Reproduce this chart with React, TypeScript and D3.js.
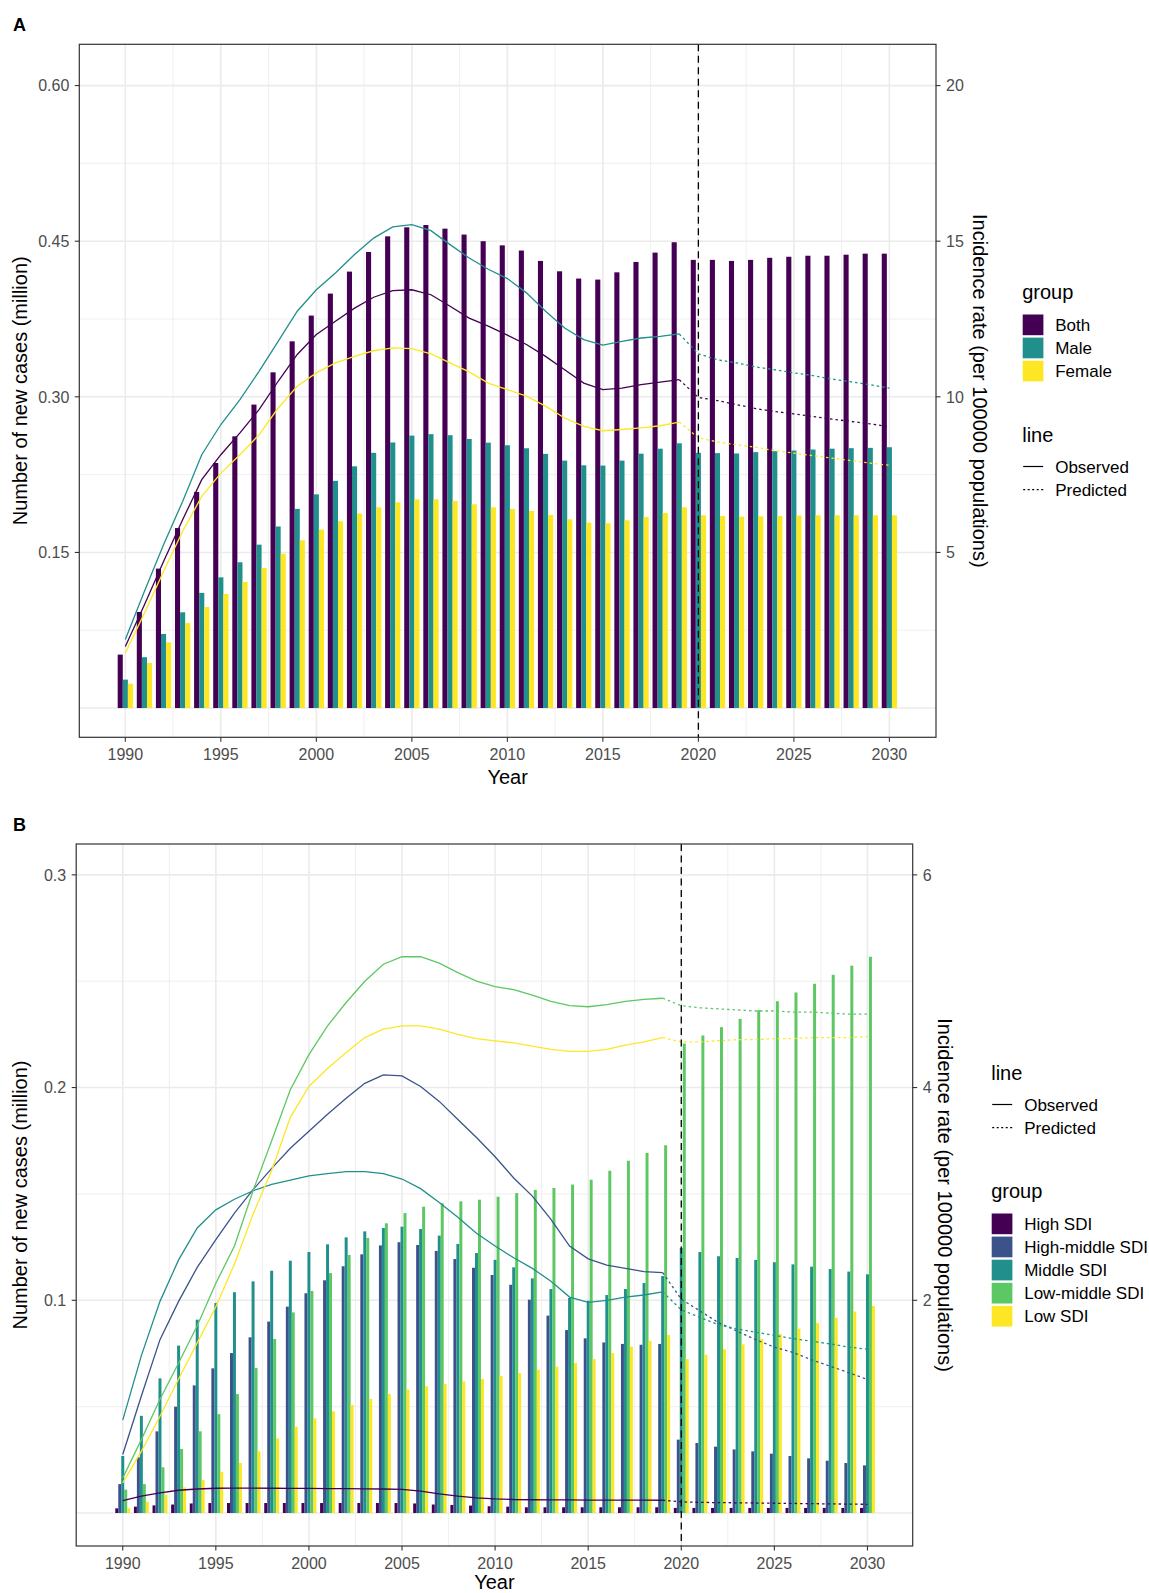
import React from "react";
import * as d3 from "d3";

// categories
const years = [
  1990, 1991, 1992, 1993, 1994, 1995, 1996, 1997, 1998, 1999, 2000, 2001, 2002, 2003,
  2004, 2005, 2006, 2007, 2008, 2009, 2010, 2011, 2012, 2013, 2014, 2015, 2016, 2017,
  2018, 2019, 2020, 2021, 2022, 2023, 2024, 2025, 2026, 2027, 2028, 2029, 2030,
];

// ---- panel A: new cases (million) ----
const groupsA = ["Both", "Male", "Female"];
const casesBoth = [
  0.0515, 0.0926, 0.1344, 0.1735, 0.2083, 0.2362, 0.2619, 0.2925, 0.3236, 0.3535, 0.3783,
  0.3995, 0.4207, 0.4396, 0.4547, 0.4634, 0.4656, 0.4621, 0.4564, 0.45, 0.446, 0.441, 0.431,
  0.421, 0.414, 0.413, 0.42, 0.43, 0.439, 0.449, 0.432, 0.432, 0.431, 0.432, 0.434, 0.435,
  0.436, 0.436, 0.437, 0.438, 0.438,
];
const casesMale = [
  0.0274, 0.049, 0.0714, 0.0923, 0.111, 0.126, 0.1405, 0.1575, 0.175, 0.192, 0.206, 0.219,
  0.233, 0.246, 0.256, 0.2626, 0.264, 0.263, 0.2594, 0.2558, 0.2533, 0.2504, 0.245, 0.2385,
  0.234, 0.2337, 0.2385, 0.2452, 0.25, 0.2552, 0.246, 0.2457, 0.2454, 0.2467, 0.2476, 0.2482,
  0.2492, 0.25, 0.2505, 0.2508, 0.2514,
];
const casesFemale = [
  0.0235, 0.0434, 0.0633, 0.082, 0.0974, 0.11, 0.1215, 0.135, 0.1488, 0.1617, 0.172, 0.18,
  0.1874, 0.1935, 0.1983, 0.2012, 0.2012, 0.1996, 0.1964, 0.1935, 0.1919, 0.19, 0.1861,
  0.1819, 0.1787, 0.1781, 0.181, 0.1842, 0.188, 0.1935, 0.1858, 0.1851, 0.1845, 0.1848,
  0.1851, 0.1855, 0.1858, 0.1858, 0.1858, 0.1858, 0.1858,
];
// incidence rate (per 100000)
const rateBoth = [
  1.98, 3.32, 4.71, 6.05, 7.34, 8.14, 8.84, 9.59, 10.5, 11.36, 12.0, 12.43, 12.85, 13.2,
  13.41, 13.44, 13.28, 12.91, 12.53, 12.27, 11.98, 11.68, 11.3, 10.87, 10.44, 10.23, 10.28,
  10.39, 10.47, 10.55, 9.98, 9.88, 9.75, 9.62, 9.53, 9.45, 9.37, 9.28, 9.21, 9.13, 9.04,
];
const rateMale = [
  2.2, 3.75, 5.25, 6.64, 8.14, 9.11, 9.91, 10.82, 11.78, 12.75, 13.44, 13.98, 14.57, 15.1,
  15.46, 15.53, 15.34, 14.89, 14.46, 14.1, 13.8, 13.34, 12.75, 12.21, 11.84, 11.66, 11.78,
  11.89, 11.94, 12.02, 11.38, 11.19, 11.09, 10.96, 10.87, 10.77, 10.68, 10.57, 10.48, 10.39,
  10.28,
];
const rateFemale = [
  1.77, 3.05, 4.39, 5.68, 6.8, 7.55, 8.14, 8.78, 9.64, 10.34, 10.77, 11.09, 11.3, 11.48,
  11.57, 11.55, 11.38, 11.09, 10.8, 10.44, 10.23, 10.02, 9.7, 9.32, 9.05, 8.91, 8.95, 9.0,
  9.07, 9.19, 8.68, 8.55, 8.46, 8.38, 8.27, 8.19, 8.11, 8.03, 7.95, 7.87, 7.8,
];

// ---- panel B: SDI regions ----
const groupsB = ["High SDI", "High-middle SDI", "Middle SDI", "Low-middle SDI", "Low SDI"];
const casesHigh = [
  0.0022, 0.003, 0.0036, 0.004, 0.0045, 0.0047, 0.0047, 0.0047, 0.0047, 0.0047, 0.0047,
  0.0047, 0.0047, 0.0047, 0.0047, 0.0047, 0.0045, 0.004, 0.0038, 0.0035, 0.0032, 0.003,
  0.0027, 0.0027, 0.0027, 0.0027, 0.0027, 0.0027, 0.0027, 0.0027, 0.0024, 0.0024, 0.0024,
  0.0024, 0.0024, 0.0024, 0.0024, 0.0024, 0.0024, 0.0024, 0.0024,
];
const casesHighMid = [
  0.0136, 0.0262, 0.0384, 0.05, 0.06, 0.068, 0.0752, 0.0826, 0.09, 0.097, 0.1033, 0.1094,
  0.116, 0.1216, 0.1258, 0.1273, 0.126, 0.1232, 0.1194, 0.1153, 0.1119, 0.1073, 0.1003,
  0.0928, 0.086, 0.0821, 0.0802, 0.0795, 0.0791, 0.0795, 0.0345, 0.0329, 0.0312, 0.0299,
  0.029, 0.0279, 0.0268, 0.0257, 0.0246, 0.0235, 0.0224,
];
const casesMiddle = [
  0.0268, 0.0457, 0.0633, 0.0787, 0.0909, 0.0987, 0.1038, 0.1089, 0.1139, 0.1186, 0.1227,
  0.1263, 0.1296, 0.1324, 0.134, 0.1346, 0.1335, 0.1304, 0.1265, 0.1222, 0.119, 0.1155,
  0.1103, 0.1053, 0.1011, 0.0998, 0.1025, 0.1053, 0.1081, 0.1114, 0.1246, 0.1227, 0.1207,
  0.1199, 0.119, 0.1179, 0.1169, 0.1158, 0.1147, 0.1135, 0.1122,
];
const casesLowMid = [
  0.011, 0.0136, 0.0215, 0.0301, 0.0384, 0.0465, 0.0559, 0.0682, 0.0818, 0.0943, 0.1044,
  0.1128, 0.1213, 0.1293, 0.1362, 0.141, 0.144, 0.1456, 0.1465, 0.1473, 0.1487, 0.1504,
  0.1519, 0.1528, 0.1544, 0.1567, 0.1609, 0.1656, 0.1693, 0.1729, 0.2207, 0.2245, 0.2284,
  0.2323, 0.2364, 0.2406, 0.2447, 0.2488, 0.253, 0.2573, 0.2615,
];
const casesLow = [
  0.0022, 0.0053, 0.0086, 0.0121, 0.0155, 0.0194, 0.0235, 0.029, 0.0351, 0.0406, 0.0445,
  0.0478, 0.0508, 0.0536, 0.056, 0.058, 0.0596, 0.0606, 0.0619, 0.063, 0.0644, 0.0658,
  0.0674, 0.0688, 0.0705, 0.0724, 0.0752, 0.0782, 0.0809, 0.0837, 0.0724, 0.0744, 0.077,
  0.0793, 0.0818, 0.0842, 0.0867, 0.0893, 0.0918, 0.0947, 0.0973,
];
const rateHigh = [
  0.1175, 0.158, 0.19, 0.214, 0.226, 0.233, 0.234, 0.234, 0.233, 0.232, 0.231, 0.23, 0.229,
  0.228, 0.226, 0.222, 0.205, 0.18, 0.158, 0.143, 0.133, 0.127, 0.125, 0.124, 0.123, 0.122,
  0.122, 0.121, 0.121, 0.12, 0.105, 0.1, 0.098, 0.096, 0.094, 0.092, 0.09, 0.088, 0.086,
  0.084, 0.082,
];
const rateHighMid = [
  0.55, 1.1, 1.63, 1.99, 2.31, 2.57, 2.82, 3.04, 3.24, 3.43, 3.59, 3.75, 3.9, 4.04, 4.12,
  4.11, 4.01, 3.87, 3.7, 3.53, 3.35, 3.15, 2.98, 2.76, 2.51, 2.39, 2.33, 2.3, 2.27, 2.26,
  2.01, 1.9, 1.79, 1.71, 1.63, 1.56, 1.51, 1.44, 1.38, 1.32, 1.255,
];
const rateMiddle = [
  0.873, 1.48, 1.99, 2.38, 2.68, 2.85, 2.95, 3.03, 3.09, 3.13, 3.17, 3.19, 3.21, 3.21, 3.19,
  3.14, 3.05, 2.92, 2.78, 2.63, 2.51, 2.4, 2.3, 2.18, 2.03, 1.98, 2.0, 2.03, 2.05, 2.08,
  1.91, 1.84, 1.77, 1.73, 1.7, 1.67, 1.64, 1.615, 1.59, 1.56, 1.54,
];
const rateLowMid = [
  0.33, 0.69, 1.07, 1.41, 1.76, 2.16, 2.51, 3.03, 3.5, 3.98, 4.31, 4.58, 4.8, 5.0, 5.16,
  5.23, 5.23, 5.17, 5.08, 5.0, 4.95, 4.92, 4.87, 4.81, 4.77, 4.76, 4.78, 4.81, 4.83, 4.84,
  4.77, 4.75, 4.74, 4.73, 4.72, 4.72, 4.71, 4.71, 4.7, 4.69, 4.69,
];
const rateLow = [
  0.284, 0.58, 0.91, 1.26, 1.6, 1.94, 2.34, 2.81, 3.22, 3.72, 4.01, 4.18, 4.33, 4.47, 4.55,
  4.58, 4.58, 4.55, 4.5, 4.46, 4.44, 4.42, 4.39, 4.36, 4.34, 4.34, 4.36, 4.4, 4.43, 4.47,
  4.43, 4.43, 4.44, 4.45, 4.45, 4.46, 4.46, 4.47, 4.47, 4.47, 4.48,
];

// axis ticks
const xTicks = [1990, 1995, 2000, 2005, 2010, 2015, 2020, 2025, 2030];
const leftTicksA = [0.15, 0.3, 0.45, 0.6];
const rightTicksA = [5, 10, 15, 20];
const leftTicksB = [0.1, 0.2, 0.3];
const rightTicksB = [2, 4, 6];
const lineTypes = ["Observed", "Predicted"];

const colorsA = ["#440154", "#21908C", "#FDE725"];
const colorsB = ["#440154", "#3B528B", "#21908C", "#5DC863", "#FDE725"];

const FONT = "'Liberation Sans', Arial, Helvetica, sans-serif";
const lastObserved = 2019;
const splitYear = 2020;

const Panel = (props) => {
  const { box, xDomain, yDomain, factor, leftTicks, leftFmt, rightTicks, groups, colors,
    cases, rates, letter, leftTitleX, rightTitleX, yearOffset, legend } = props;

  const x = d3.scaleLinear().domain(xDomain).range([box.left, box.right]);
  const y = d3.scaleLinear().domain(yDomain).range([box.bottom, box.top]);
  const yR = d3.scaleLinear().domain(yDomain.map((d) => d * factor)).range([box.bottom, box.top]);
  const inner = d3.scaleBand().domain(groups).range([-0.4, 0.4]);
  const line = d3.line().x((d) => x(d[0])).y((d) => yR(d[1]));

  const step = leftTicks[1] - leftTicks[0];
  const majorY = [0, ...leftTicks];
  const minorY = majorY.map((d) => d + step / 2).filter((d) => d < yDomain[1]);
  const minorX = d3.range(xTicks[0] - 2.5, xTicks[xTicks.length - 1] + 5, 5)
    .filter((d) => d > xDomain[0] && d < xDomain[1]);

  const midY = (box.top + box.bottom) / 2;
  const midX = (box.left + box.right) / 2;

  return (
    <g fontFamily={FONT}>
      <text x={13} y={box.top - 13} fontSize={18} fontWeight="bold">{letter}</text>

      {/* grid */}
      {minorY.map((d) => (
        <line key={"my" + d} x1={box.left} x2={box.right} y1={y(d)} y2={y(d)} stroke="#EBEBEB" strokeWidth={0.8} />
      ))}
      {minorX.map((d) => (
        <line key={"mx" + d} x1={x(d)} x2={x(d)} y1={box.top} y2={box.bottom} stroke="#EBEBEB" strokeWidth={0.8} />
      ))}
      {majorY.map((d) => (
        <line key={"gy" + d} x1={box.left} x2={box.right} y1={y(d)} y2={y(d)} stroke="#EBEBEB" strokeWidth={1.6} />
      ))}
      {xTicks.map((d) => (
        <line key={"gx" + d} x1={x(d)} x2={x(d)} y1={box.top} y2={box.bottom} stroke="#EBEBEB" strokeWidth={1.6} />
      ))}

      {/* bars */}
      {groups.map((g, gi) => (
        <g key={g} fill={colors[gi]}>
          {years.map((yr, i) => {
            const x0 = x(yr + inner(g));
            const x1 = x(yr + inner(g) + inner.bandwidth());
            return (
              <rect key={yr} x={x0} width={x1 - x0} y={y(cases[gi][i])} height={y(0) - y(cases[gi][i])} />
            );
          })}
        </g>
      ))}

      {/* rate lines */}
      {groups.map((g, gi) => {
        const pts = years.map((yr, i) => [yr, rates[gi][i]]);
        const obs = pts.filter((p) => p[0] <= lastObserved);
        const pred = pts.filter((p) => p[0] >= lastObserved);
        return (
          <g key={"l" + g} fill="none" stroke={colors[gi]} strokeWidth={1.3}>
            <path d={line(obs)} />
            <path d={line(pred)} strokeDasharray="2.5,3" />
          </g>
        );
      })}

      {/* split line */}
      <line x1={x(splitYear)} x2={x(splitYear)} y1={box.top} y2={box.bottom} stroke="#000" strokeWidth={1.3} strokeDasharray="7,4.5" />

      {/* border */}
      <rect x={box.left} y={box.top} width={box.right - box.left} height={box.bottom - box.top} fill="none" stroke="#333333" strokeWidth={1.2} />

      {/* left axis */}
      {leftTicks.map((d) => (
        <g key={"lt" + d}>
          <line x1={box.left - 4.5} x2={box.left} y1={y(d)} y2={y(d)} stroke="#333333" strokeWidth={1.1} />
          <text x={box.left - 10} y={y(d)} dy="0.36em" textAnchor="end" fontSize={16} fill="#4D4D4D">{leftFmt(d)}</text>
        </g>
      ))}
      {/* right axis */}
      {rightTicks.map((d) => (
        <g key={"rt" + d}>
          <line x1={box.right} x2={box.right + 4.5} y1={yR(d)} y2={yR(d)} stroke="#333333" strokeWidth={1.1} />
          <text x={box.right + 10} y={yR(d)} dy="0.36em" textAnchor="start" fontSize={16} fill="#4D4D4D">{d}</text>
        </g>
      ))}
      {/* bottom axis */}
      {xTicks.map((d) => (
        <g key={"xt" + d}>
          <line x1={x(d)} x2={x(d)} y1={box.bottom} y2={box.bottom + 4.5} stroke="#333333" strokeWidth={1.1} />
          <text x={x(d)} y={box.bottom + 23} textAnchor="middle" fontSize={16} fill="#4D4D4D">{d}</text>
        </g>
      ))}

      {/* axis titles */}
      <text x={midX} y={box.bottom + yearOffset} textAnchor="middle" fontSize={20}>Year</text>
      <text transform={`translate(${leftTitleX},${midY}) rotate(-90)`} textAnchor="middle" fontSize={20}>
        Number of new cases (million)
      </text>
      <text transform={`translate(${rightTitleX},${midY}) rotate(90)`} textAnchor="middle" fontSize={20}>
        Incidence rate (per 100000 populations)
      </text>

      {/* legends */}
      {legend.map((blk) => (
        <g key={blk.title}>
          <text x={blk.x} y={blk.y} fontSize={20}>{blk.title}</text>
          {blk.title === "group"
            ? groups.map((g, gi) => (
                <g key={g}>
                  <rect x={blk.x + 0.5} y={blk.y + 15.5 + gi * 23.1} width={20.7} height={20.7} fill={colors[gi]} />
                  <text x={blk.x + 33} y={blk.y + 25.9 + gi * 23.1} dy="0.36em" fontSize={17}>{g}</text>
                </g>
              ))
            : lineTypes.map((t, ti) => (
                <g key={t}>
                  <line x1={blk.x + 1} x2={blk.x + 21} y1={blk.y + 24.5 + ti * 23.2} y2={blk.y + 24.5 + ti * 23.2}
                    stroke="#000" strokeWidth={1.2} strokeDasharray={ti === 1 ? "2,2.5" : null} />
                  <text x={blk.x + 33} y={blk.y + 24.5 + ti * 23.2} dy="0.36em" fontSize={17}>{t}</text>
                </g>
              ))}
        </g>
      ))}
    </g>
  );
};

export default function App() {
  return (
    <div style={{ position: "absolute", left: 0, top: 0, background: "#fff" }}>
      <svg width={1149} height={1593} style={{ display: "block" }}>
        <rect width={1149} height={1593} fill="#fff" />
        <Panel
          letter="A"
          box={{ left: 79.3, right: 936, top: 44.3, bottom: 737.3 }}
          xDomain={[1987.59, 2032.44]}
          yDomain={[-0.0282, 0.6398]}
          factor={100 / 3}
          leftTicks={leftTicksA}
          leftFmt={d3.format(".2f")}
          rightTicks={rightTicksA}
          groups={groupsA}
          colors={colorsA}
          cases={[casesBoth, casesMale, casesFemale]}
          rates={[rateBoth, rateMale, rateFemale]}
          leftTitleX={26.5}
          rightTitleX={972.5}
          yearOffset={47}
          legend={[
            { title: "group", x: 1022.2, y: 299 },
            { title: "line", x: 1022.2, y: 442 },
          ]}
        />
        <Panel
          letter="B"
          box={{ left: 76.2, right: 912.7, top: 844, bottom: 1546 }}
          xDomain={[1987.5, 2032.43]}
          yDomain={[-0.0155, 0.3145]}
          factor={20}
          leftTicks={leftTicksB}
          leftFmt={d3.format(".1f")}
          rightTicks={rightTicksB}
          groups={groupsB}
          colors={colorsB}
          cases={[casesHigh, casesHighMid, casesMiddle, casesLowMid, casesLow]}
          rates={[rateHigh, rateHighMid, rateMiddle, rateLowMid, rateLow]}
          leftTitleX={26.5}
          rightTitleX={937.5}
          yearOffset={42.5}
          legend={[
            { title: "line", x: 991.2, y: 1080 },
            { title: "group", x: 991.2, y: 1198 },
          ]}
        />
      </svg>
    </div>
  );
}
